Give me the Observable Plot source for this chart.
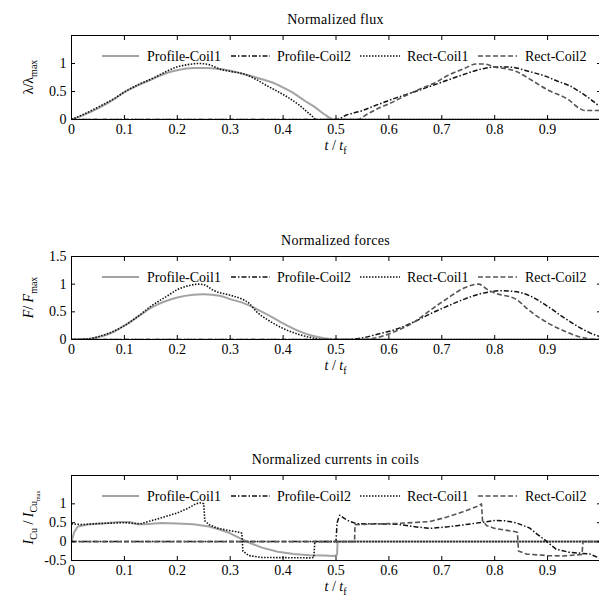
<!DOCTYPE html>
<html><head><meta charset="utf-8">
<script src="https://cdn.jsdelivr.net/npm/d3@7"></script>
<script src="https://cdn.jsdelivr.net/npm/@observablehq/plot@0.6"></script>
<style>
body{margin:0;background:#fff;overflow:hidden}
#chart svg{display:block}
</style>
</head><body><div id="chart"></div>
<script>
// ---- tick labels ----
const tTicks = [0, 0.1, 0.2, 0.3, 0.4, 0.5, 0.6, 0.7, 0.8, 0.9];
const fluxTicks = [0, 0.5, 1];
const forceTicks = [0, 0.5, 1, 1.5];
const currentTicks = [-0.5, 0, 0.5, 1];
const seriesNames = ["Profile-Coil1", "Profile-Coil2", "Rect-Coil1", "Rect-Coil2"];

// ---- Normalized flux [t/tf, value] ----
const fluxProfile1 = [[0,0],[0.02,0.07],[0.05,0.2],[0.08,0.36],[0.1,0.49],[0.13,0.63],[0.15,0.71],[0.18,0.83],[0.2,0.88],[0.23,0.92],[0.25,0.92],[0.28,0.9],[0.3,0.87],[0.33,0.8],[0.36,0.72],[0.38,0.66],[0.4,0.57],[0.42,0.47],[0.44,0.34],[0.46,0.22],[0.48,0.08],[0.49,0.02],[0.495,0],[1,0]];
const fluxProfile2 = [[0,0],[0.5,0],[0.52,0.08],[0.55,0.16],[0.58,0.27],[0.615,0.39],[0.65,0.5],[0.677,0.59],[0.71,0.7],[0.74,0.8],[0.77,0.89],[0.79,0.93],[0.81,0.94],[0.835,0.93],[0.86,0.87],[0.897,0.77],[0.92,0.68],[0.94,0.61],[0.96,0.5],[0.98,0.37],[1,0.22]];
const fluxRect1 = [[0,0],[0.02,0.08],[0.05,0.22],[0.08,0.37],[0.1,0.49],[0.13,0.64],[0.15,0.72],[0.18,0.86],[0.2,0.94],[0.22,0.98],[0.24,1.0],[0.26,0.98],[0.28,0.9],[0.3,0.86],[0.33,0.8],[0.35,0.71],[0.37,0.6],[0.39,0.5],[0.41,0.39],[0.43,0.26],[0.45,0.1],[0.465,0],[1,0]];
const fluxRect2 = [[0,0],[0.54,0],[0.56,0.1],[0.58,0.2],[0.6,0.28],[0.63,0.42],[0.66,0.55],[0.69,0.67],[0.71,0.78],[0.74,0.9],[0.765,0.99],[0.78,0.99],[0.8,0.94],[0.84,0.86],[0.87,0.7],[0.9,0.53],[0.94,0.35],[0.96,0.2],[0.97,0.16],[1,0.16]];

// ---- Normalized forces ----
const forceProfile1 = [[0,0],[0.03,0.01],[0.05,0.04],[0.08,0.14],[0.1,0.25],[0.13,0.44],[0.15,0.57],[0.18,0.7],[0.2,0.76],[0.23,0.81],[0.25,0.82],[0.28,0.79],[0.3,0.73],[0.33,0.64],[0.35,0.55],[0.38,0.4],[0.4,0.29],[0.43,0.15],[0.45,0.08],[0.48,0.02],[0.5,0],[1,0]];
const forceProfile2 = [[0,0],[0.52,0],[0.55,0.03],[0.58,0.1],[0.615,0.19],[0.65,0.33],[0.677,0.46],[0.71,0.6],[0.74,0.72],[0.77,0.82],[0.79,0.86],[0.81,0.88],[0.835,0.87],[0.866,0.79],[0.9,0.6],[0.93,0.4],[0.96,0.22],[0.98,0.12],[1,0.05]];
const forceRect1 = [[0,0],[0.03,0.01],[0.05,0.05],[0.08,0.15],[0.1,0.25],[0.13,0.45],[0.15,0.6],[0.18,0.78],[0.2,0.9],[0.22,0.97],[0.24,1.0],[0.25,0.99],[0.27,0.88],[0.3,0.8],[0.32,0.74],[0.335,0.66],[0.35,0.5],[0.37,0.36],[0.4,0.2],[0.43,0.09],[0.45,0.04],[0.48,0],[1,0]];
const forceRect2 = [[0,0],[0.55,0],[0.58,0.04],[0.615,0.16],[0.645,0.3],[0.677,0.52],[0.71,0.74],[0.74,0.92],[0.76,0.99],[0.77,1.0],[0.785,0.91],[0.8,0.84],[0.84,0.73],[0.866,0.52],[0.9,0.3],[0.93,0.16],[0.96,0.05],[0.98,0.01],[1,0]];

// ---- Normalized currents in coils ----
const curProfile1 = [[0,0],[0.005,0.25],[0.012,0.4],[0.03,0.45],[0.06,0.48],[0.09,0.52],[0.11,0.52],[0.125,0.46],[0.14,0.46],[0.17,0.49],[0.2,0.48],[0.23,0.46],[0.26,0.4],[0.28,0.32],[0.3,0.22],[0.32,0.08],[0.34,-0.05],[0.36,-0.16],[0.39,-0.27],[0.42,-0.33],[0.45,-0.36],[0.48,-0.37],[0.495,-0.38],[0.502,-0.35],[0.503,0],[1,0]];
const curProfile2 = [[0,0],[0.5,0],[0.502,0.5],[0.507,0.7],[0.515,0.62],[0.525,0.54],[0.54,0.47],[0.58,0.47],[0.615,0.46],[0.645,0.4],[0.677,0.35],[0.71,0.39],[0.74,0.44],[0.78,0.52],[0.8,0.56],[0.82,0.55],[0.84,0.5],[0.866,0.36],[0.88,0.2],[0.897,0.02],[0.916,-0.2],[0.94,-0.28],[0.98,-0.33],[1,-0.45]];
const curRect1 = [[0,0.47],[0.02,0.45],[0.05,0.48],[0.1,0.5],[0.13,0.47],[0.15,0.55],[0.17,0.63],[0.2,0.76],[0.22,0.88],[0.235,1.0],[0.245,1.03],[0.25,1.0],[0.252,0.55],[0.26,0.45],[0.275,0.36],[0.295,0.3],[0.32,0.24],[0.322,0.22],[0.324,-0.25],[0.335,-0.37],[0.36,-0.42],[0.45,-0.43],[0.458,-0.42],[0.46,0],[1,0]];
const curRect2 = [[0,0],[0.535,0],[0.536,0.45],[0.56,0.46],[0.615,0.48],[0.677,0.53],[0.71,0.65],[0.74,0.79],[0.765,0.92],[0.775,1.0],[0.777,0.55],[0.785,0.42],[0.8,0.35],[0.84,0.26],[0.843,0.24],[0.845,-0.25],[0.86,-0.33],[0.9,-0.37],[0.93,-0.38],[0.965,-0.34],[0.967,0],[1,0]];

const styles = [
  {stroke: "#a3a3a3", strokeWidth: 2},
  {stroke: "#111", strokeWidth: 1.5, strokeDasharray: "5,2,1.5,2"},
  {stroke: "#111", strokeWidth: 1.6, strokeDasharray: "1.5,1.5"},
  {stroke: "#555", strokeWidth: 1.6, strokeDasharray: "5,2.5"}
];

const FONT = "'Liberation Serif', 'Times New Roman', Tinos, 'DejaVu Serif', serif";
const FS = 14;
const W = 599, ML = 71, MT = 35;

function panel({data, yDomain, yTicks, title, height, marginBottom, curve, yLabel}) {
  const marks = [];
  data.forEach((d, i) => marks.push(Plot.line(d, {x: p => p[0], y: p => p[1], curve, clip: true, strokeLinecap: "butt", strokeLinejoin: "round", ...styles[i]})));
  marks.push(
    Plot.frame({stroke: "black"}),
    Plot.axisX({ticks: tTicks, tickSize: -4, tickPadding: 9, tickFormat: d => String(d), label: null}),
    Plot.axisX({anchor: "top", ticks: tTicks, tickSize: -4, tickFormat: () => "", label: null}),
    Plot.axisY({ticks: yTicks, tickSize: -4, tickPadding: 9, tickFormat: d => String(d), label: null}),
    Plot.axisY({anchor: "right", ticks: yTicks, tickSize: -4, tickFormat: () => "", label: null})
  );
  const svg = Plot.plot({
    width: W, height, marginLeft: ML, marginRight: -1, marginTop: MT, marginBottom,
    style: {fontFamily: FONT, fontSize: FS + "px", background: "white", color: "black"},
    x: {domain: [0, 1]},
    y: {domain: yDomain},
    marks
  });
  const s = d3.select(svg);
  s.selectAll("text").attr("font-family", FONT);
  const cx = (ML + W + 1) / 2;
  const boxBottom = height - marginBottom;
  // title
  s.append("text").attr("x", cx).attr("y", MT - 11).attr("text-anchor", "middle")
    .attr("font-family", FONT).attr("font-size", FS).attr("letter-spacing", 0.3).text(title);
  // x label
  const xl = s.append("text").attr("x", cx).attr("y", boxBottom + 31).attr("text-anchor", "middle")
    .attr("font-family", FONT).attr("font-size", FS);
  xl.append("tspan").attr("font-style", "italic").text("t");
  xl.append("tspan").text(" / ");
  xl.append("tspan").attr("font-style", "italic").text("t");
  xl.append("tspan").attr("font-size", 10).attr("dy", 4).text("f");
  // y label
  const yc = (MT + boxBottom) / 2;
  const yl = s.append("text").attr("transform", `translate(33,${yc}) rotate(-90)`).attr("text-anchor", "middle")
    .attr("font-family", FONT).attr("font-size", FS);
  yLabel(yl);
  // legend
  const ly = MT + 21;
  const sampleX = [[102, 139], [231, 270], [360, 400], [478, 517]];
  const textX = [147, 277, 407, 525];
  seriesNames.forEach((name, i) => {
    const st = styles[i];
    s.append("line").attr("x1", sampleX[i][0]).attr("x2", sampleX[i][1]).attr("y1", ly).attr("y2", ly)
      .attr("stroke", st.stroke).attr("stroke-width", st.strokeWidth)
      .attr("stroke-dasharray", st.strokeDasharray || null);
    s.append("text").attr("x", textX[i]).attr("y", ly).attr("dy", "0.35em").attr("text-anchor", "start")
      .attr("font-family", FONT).attr("font-size", FS).text(name);
  });
  return svg;
}

const chart = document.getElementById("chart");
chart.append(panel({
  data: [fluxProfile1, fluxProfile2, fluxRect1, fluxRect2], yDomain: [0, 1.5], yTicks: fluxTicks,
  title: "Normalized flux", height: 221, marginBottom: 102, curve: "monotone-x",
  yLabel: t => { t.append("tspan").text("λ/λ"); t.append("tspan").attr("font-size", 10).attr("dy", 4).text("max"); }
}));
chart.append(panel({
  data: [forceProfile1, forceProfile2, forceRect1, forceRect2], yDomain: [0, 1.5], yTicks: forceTicks,
  title: "Normalized forces", height: 219, marginBottom: 101, curve: "monotone-x",
  yLabel: t => { t.append("tspan").attr("font-style", "italic").text("F"); t.append("tspan").text("/ ");
    t.append("tspan").attr("font-style", "italic").text("F"); t.append("tspan").attr("font-size", 10).attr("dy", 4).text("max"); }
}));
chart.append(panel({
  data: [curProfile1, curProfile2, curRect1, curRect2], yDomain: [-0.5, 1.75], yTicks: currentTicks,
  title: "Normalized currents in coils", height: 158, marginBottom: 38, curve: "linear",
  yLabel: t => { t.append("tspan").attr("font-style", "italic").text("I"); t.append("tspan").attr("font-size", 10).attr("dy", 4).text("Cu");
    t.append("tspan").attr("dy", -4).text(" / "); t.append("tspan").attr("font-style", "italic").text("I");
    t.append("tspan").attr("font-size", 10).attr("dy", 4).text("Cu"); t.append("tspan").attr("font-size", 6).attr("dy", 3).text("max"); }
}));
</script>
</body></html>
